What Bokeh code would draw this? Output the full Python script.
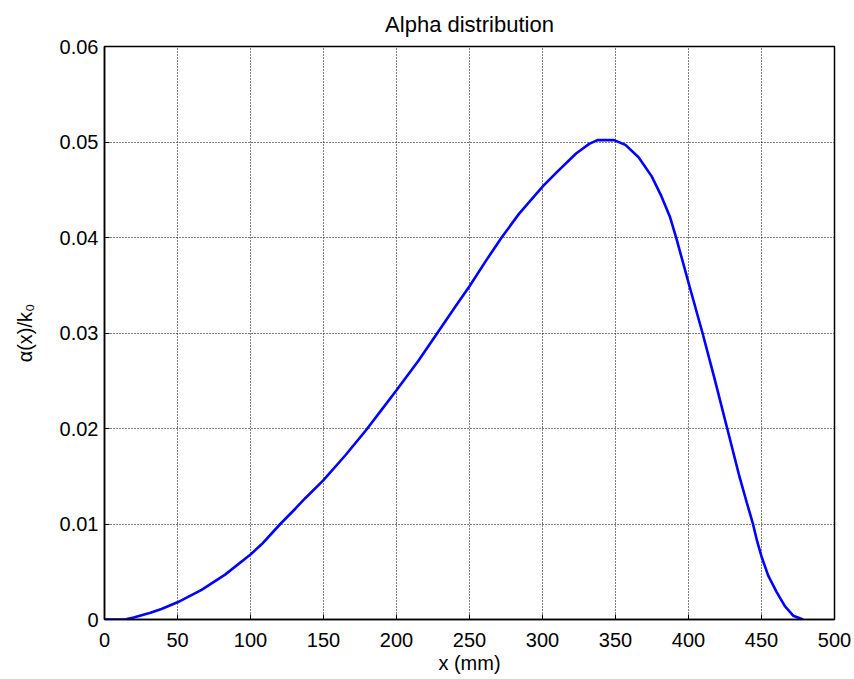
from bokeh.plotting import figure
from bokeh.models import FixedTicker, Range1d
from bokeh.embed import file_html
from bokeh.resources import INLINE

# ---- data ----
x_mm = [0, 14, 20, 31.5, 39, 50, 66.5, 82.6, 100, 107.8, 120.4, 130.7, 137.5,
        150, 165, 179.5, 190, 200, 215, 228, 240, 250, 261, 272, 284, 300.5,
        309.5, 323, 332, 337.6, 349, 356.8, 365.8, 374.8, 381.5, 387.2, 391.7,
        400.5, 409.6, 417.7, 425.7, 435, 440, 444, 447, 450, 454.6, 460.3, 466,
        471.7, 478.5]
alpha_k0 = [0.0, 0.0, 0.0002, 0.0007, 0.0011, 0.0018, 0.0031, 0.0047, 0.0068,
            0.0079, 0.0100, 0.0116, 0.0127, 0.0146, 0.0172, 0.0199, 0.0220,
            0.0240, 0.0271, 0.0300, 0.0327, 0.0349, 0.0375, 0.0400, 0.0425,
            0.0454, 0.0468, 0.0488, 0.0498, 0.0502, 0.0502, 0.0497, 0.0484,
            0.0464, 0.0443, 0.0422, 0.0399, 0.0350, 0.0300, 0.0253, 0.0205,
            0.0149, 0.0122, 0.0101, 0.0082, 0.0066, 0.0046, 0.0029, 0.0014,
            0.0004, 0.0]

x_ticks = [0, 50, 100, 150, 200, 250, 300, 350, 400, 450, 500]
x_tick_labels = ["0", "50", "100", "150", "200", "250", "300", "350", "400", "450", "500"]
y_ticks = [0.0, 0.01, 0.02, 0.03, 0.04, 0.05, 0.06]
y_tick_labels = ["0", "0.01", "0.02", "0.03", "0.04", "0.05", "0.06"]

title_text = "Alpha distribution"
x_label = "x (mm)"
y_label = "\u03b1(x)/k\u2080"

FONT = "Liberation Sans"
FS = "20px"

p = figure(width=854, height=679, output_backend="svg", toolbar_location=None,
           x_range=Range1d(0, 500), y_range=Range1d(0, 0.06),
           min_border_left=104, min_border_right=20, min_border_top=46,
           min_border_bottom=60, title=title_text)
p.background_fill_color = "white"
p.border_fill_color = "white"
p.outline_line_color = "black"
p.outline_line_width = 1.5

p.title.align = "center"
p.title.text_font = FONT
p.title.text_font_size = "22px"
p.title.text_font_style = "normal"
p.title.text_color = "black"
p.title.standoff = 19

p.line(x_mm, alpha_k0, line_color="#0000ff", line_width=2.6)

for ax, ticks, labels in ((p.xaxis[0], x_ticks, x_tick_labels), (p.yaxis[0], y_ticks, y_tick_labels)):
    ax.ticker = FixedTicker(ticks=ticks)
    ax.major_label_overrides = {t: l for t, l in zip(ticks, labels)}
    ax.minor_tick_line_color = None
    ax.major_tick_in = 5
    ax.major_tick_out = 0
    ax.major_tick_line_color = "black"
    ax.axis_line_color = "black"
    ax.axis_line_width = 1.5
    ax.major_label_text_font = FONT
    ax.major_label_text_font_size = FS
    ax.major_label_text_color = "black"
    ax.axis_label_text_font = FONT
    ax.axis_label_text_font_size = FS
    ax.axis_label_text_font_style = "normal"
    ax.axis_label_text_color = "black"

p.xaxis.major_label_standoff = 13
p.yaxis.major_label_standoff = 6
p.xaxis.axis_label = x_label
p.yaxis.axis_label = y_label
p.xaxis.axis_label_standoff = 2
p.yaxis.axis_label_standoff = 21

for g, ticks in ((p.xgrid[0], x_ticks), (p.ygrid[0], y_ticks)):
    g.ticker = FixedTicker(ticks=ticks)
    g.grid_line_color = "black"
    g.grid_line_alpha = 1.0
    g.grid_line_width = 1
    g.grid_line_dash = "1 2"

open("out.html", "w").write(file_html(p, INLINE))
